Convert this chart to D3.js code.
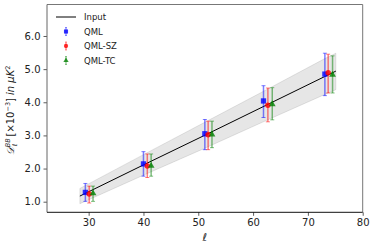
<!DOCTYPE html>
<html>
<head>
<meta charset="utf-8">
<script src="https://cdn.jsdelivr.net/npm/d3@7"></script>
<style>
  body { margin: 0; background: #fff; }
  svg { display: block; font-family: "DejaVu Sans", sans-serif; }
</style>
</head>
<body>
<div id="chart"></div>
<script>
// input spectrum
const inputEll = [28.4, 40, 51, 62, 73, 75.1];
const inputD = [1.17, 2.11, 2.99, 3.88, 4.77, 4.94];
const bandUpper = [1.40, 2.42, 3.38, 4.34, 5.31, 5.48];
const bandLower = [0.94, 1.80, 2.60, 3.42, 4.23, 4.38];

// estimates
const qmlEll = [29.4, 40.0, 51.2, 61.9, 73.1];
const qmlD = [1.28, 2.14, 3.05, 4.04, 4.85];
const qmlErrLo = [1.01, 1.77, 2.57, 3.54, 4.20];
const qmlErrHi = [1.55, 2.51, 3.48, 4.50, 5.48];

const szEll = [30.1, 40.7, 51.8, 62.7, 73.7];
const szD = [1.23, 2.08, 3.02, 3.91, 4.89];
const szErrLo = [0.96, 1.73, 2.57, 3.41, 4.28];
const szErrHi = [1.47, 2.44, 3.43, 4.43, 5.45];

const tcEll = [30.8, 41.4, 52.5, 63.5, 74.5];
const tcD = [1.25, 2.08, 3.03, 3.94, 4.83];
const tcErrLo = [1.01, 1.77, 2.63, 3.47, 4.28];
const tcErrHi = [1.47, 2.44, 3.43, 4.44, 5.40];

const xTicks = [30, 40, 50, 60, 70, 80];
const yTicks = [1.0, 2.0, 3.0, 4.0, 5.0, 6.0];

const W = 374, H = 248;
const margin = { top: 4.5, right: 11.3, bottom: 35.7, left: 47 };
const width = W - margin.left - margin.right,
      height = H - margin.top - margin.bottom;

const svg = d3.select('#chart').append('svg')
    .attr('width', W)
    .attr('height', H);

const g = svg.append('g')
    .attr('transform', `translate(${margin.left},${margin.top})`);

const x = d3.scaleLinear().domain([22.4, 80]).range([0, width]);
const y = d3.scaleLinear().domain([0.68, 6.95]).range([height, 0]);

// grey band
const band = inputEll.map((e, i) => ({ e, lo: bandLower[i], hi: bandUpper[i] }));
g.append('path')
    .datum(band)
    .attr('d', d3.area().x(d => x(d.e)).y0(d => y(d.lo)).y1(d => y(d.hi)))
    .attr('fill', 'rgba(128,128,128,0.2)')
    .attr('stroke', 'rgba(128,128,128,0.25)')
    .attr('stroke-width', 0.8);

// input line
g.append('path')
    .datum(inputEll.map((e, i) => [e, inputD[i]]))
    .attr('d', d3.line().x(d => x(d[0])).y(d => y(d[1])))
    .attr('fill', 'none')
    .attr('stroke', '#000')
    .attr('stroke-width', 1);

const series = [
    { name: 'QML', color: '#0000ff', marker: d3.symbolSquare, size: 28, ell: qmlEll, d: qmlD, lo: qmlErrLo, hi: qmlErrHi },
    { name: 'QML-SZ', color: '#ff0000', marker: d3.symbolCircle, size: 24, ell: szEll, d: szD, lo: szErrLo, hi: szErrHi },
    { name: 'QML-TC', color: '#008000', marker: d3.symbolTriangle, size: 20, ell: tcEll, d: tcD, lo: tcErrLo, hi: tcErrHi }
];

const cap = 2;
series.forEach(s => {
    const pts = s.ell.map((e, i) => ({ e, v: s.d[i], lo: s.lo[i], hi: s.hi[i] }));
    const sg = g.append('g').attr('class', 'series');
    const eb = sg.selectAll('.eb').data(pts).enter().append('g')
        .attr('stroke', s.color)
        .attr('stroke-opacity', 0.5)
        .attr('stroke-width', 1.5);
    eb.append('line')
        .attr('x1', d => x(d.e)).attr('x2', d => x(d.e))
        .attr('y1', d => y(d.lo)).attr('y2', d => y(d.hi));
    eb.append('line')
        .attr('x1', d => x(d.e) - cap).attr('x2', d => x(d.e) + cap)
        .attr('y1', d => y(d.lo)).attr('y2', d => y(d.lo))
        .attr('stroke-width', 1);
    eb.append('line')
        .attr('x1', d => x(d.e) - cap).attr('x2', d => x(d.e) + cap)
        .attr('y1', d => y(d.hi)).attr('y2', d => y(d.hi))
        .attr('stroke-width', 1);
    sg.selectAll('.mk').data(pts).enter().append('path')
        .attr('d', d3.symbol().type(s.marker).size(s.size))
        .attr('transform', d => `translate(${x(d.e)},${y(d.v)})`)
        .attr('fill', s.color)
        .attr('fill-opacity', 0.8);
});

// axes
const xAxis = g.append('g')
    .attr('transform', `translate(0,${height})`)
    .call(d3.axisBottom(x).tickValues(xTicks).tickFormat(d3.format('d')).tickSize(3.5).tickPadding(3));
const yAxis = g.append('g')
    .call(d3.axisLeft(y).tickValues(yTicks).tickFormat(d3.format('.1f')).tickSize(3.5).tickPadding(3));
[xAxis, yAxis].forEach(a => {
    a.select('.domain').remove();
    a.selectAll('text').attr('font-size', 10).attr('fill', '#222').attr('font-family', '"DejaVu Sans", sans-serif');
    a.selectAll('line').attr('stroke', '#333').attr('stroke-width', 0.8);
});

// spines
g.append('line').attr('x1', 0).attr('x2', width).attr('y1', 0).attr('y2', 0).attr('stroke', '#777').attr('stroke-width', 1);
g.append('line').attr('x1', width).attr('x2', width).attr('y1', 0).attr('y2', height).attr('stroke', '#777').attr('stroke-width', 1);
g.append('line').attr('x1', 0).attr('x2', 0).attr('y1', 0).attr('y2', height).attr('stroke', '#666').attr('stroke-width', 1);
g.append('line').attr('x1', 0).attr('x2', width).attr('y1', height).attr('y2', height).attr('stroke', '#111').attr('stroke-width', 1);

// x label
svg.append('text')
    .attr('x', margin.left + width / 2)
    .attr('y', 241)
    .attr('text-anchor', 'middle')
    .attr('font-size', 11)
    .attr('font-style', 'italic')
    .attr('fill', '#222')
    .text('ℓ');

// y label
const yl = svg.append('text')
    .attr('transform', `translate(14,${margin.top + height / 2 + 2}) rotate(-90)`)
    .attr('text-anchor', 'middle')
    .attr('font-size', 10)
    .attr('fill', '#222');
yl.append('tspan').attr('font-style', 'italic').text('𝒟');
yl.append('tspan').attr('font-size', 6.5).attr('font-style', 'italic').attr('dy', -4).text('BB');
yl.append('tspan').attr('font-size', 6.5).attr('font-style', 'italic').attr('dx', -8).attr('dy', 7).text('ℓ');
yl.append('tspan').attr('dx', 7).attr('dy', -3).text('[×10');
yl.append('tspan').attr('font-size', 6.5).attr('dy', -4).text('−3');
yl.append('tspan').attr('dy', 4).text(']');
yl.append('tspan').attr('font-style', 'italic').attr('dx', 3).text('in μK');
yl.append('tspan').attr('font-size', 6.5).attr('dy', -4).text('2');

// legend
const lg = svg.append('g').attr('transform', 'translate(56,17)');
lg.append('line').attr('x1', 0).attr('x2', 20).attr('y1', 0).attr('y2', 0).attr('stroke', '#000').attr('stroke-width', 1);
lg.append('text').attr('x', 28).attr('y', 3).attr('font-size', 8.5).attr('fill', '#222').text('Input');
series.forEach((s, i) => {
    const ly = 14.5 * (i + 1);
    const eg = lg.append('g').attr('stroke', s.color).attr('stroke-opacity', 0.5);
    eg.append('line').attr('x1', 10).attr('x2', 10).attr('y1', ly - 4).attr('y2', ly + 4).attr('stroke-width', 1.2);
    eg.append('line').attr('x1', 9).attr('x2', 11).attr('y1', ly - 4).attr('y2', ly - 4).attr('stroke-width', 0.8);
    eg.append('line').attr('x1', 9).attr('x2', 11).attr('y1', ly + 4).attr('y2', ly + 4).attr('stroke-width', 0.8);
    lg.append('path')
        .attr('d', d3.symbol().type(s.marker).size(s.size * 0.6))
        .attr('transform', `translate(10,${ly})`)
        .attr('fill', s.color)
        .attr('fill-opacity', 0.8);
    lg.append('text').attr('x', 28).attr('y', ly + 3).attr('font-size', 8.5).attr('fill', '#222').text(s.name);
});
</script>
</body>
</html>
